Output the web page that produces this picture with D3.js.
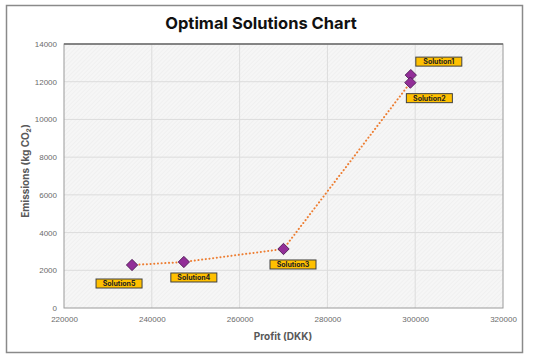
<!DOCTYPE html>
<html><head><meta charset="utf-8">
<script src="https://cdn.jsdelivr.net/npm/d3@7"></script>
<style>body{margin:0;background:#fff;}svg{display:block;}</style>
</head><body>
<svg id="chart" width="533" height="359"></svg>
<script>
const solutions = ["Solution1","Solution2","Solution3","Solution4","Solution5"];
const profit = [299000, 298900, 270000, 247300, 235500];
const emissions = [12350, 11950, 3130, 2440, 2280];
const xTicks = [220000, 240000, 260000, 280000, 300000, 320000];
const yTicks = [0, 2000, 4000, 6000, 8000, 10000, 12000, 14000];
// label offsets (pixels) relative to each point
const labelDx = [28, 19, 9.5, 10, -13];
const labelDy = [-13.5, 15.5, 15.5, 15.5, 18.5];

const svg = d3.select("#chart");
const W = 533, H = 359;
const m = {left:64, right:503, top:44, bottom:308};
const x = d3.scaleLinear().domain([220000,320000]).range([m.left, m.right]);
const y = d3.scaleLinear().domain([0,14000]).range([m.bottom, m.top]);

svg.append("rect").attr("x",0).attr("y",0).attr("width",W).attr("height",H).attr("fill","#fff");
svg.append("rect").attr("x",6.5).attr("y",5.5).attr("width",516).attr("height",347)
  .attr("fill","#fff").attr("stroke","#8a8a8a").attr("stroke-width",1.5);

const defs = svg.append("defs");
const pat = defs.append("pattern").attr("id","hatch").attr("patternUnits","userSpaceOnUse")
  .attr("width",3).attr("height",3).attr("patternTransform","rotate(45)");
pat.append("rect").attr("width",3).attr("height",3).attr("fill","#f6f6f6");
pat.append("line").attr("x1",0).attr("y1",0).attr("x2",0).attr("y2",3).attr("stroke","#ebebeb").attr("stroke-width",1);

svg.append("rect").attr("x",m.left).attr("y",m.top).attr("width",m.right-m.left).attr("height",m.bottom-m.top)
  .attr("fill","url(#hatch)");

// gridlines
svg.append("g").selectAll("line").data(yTicks.slice(1,-1)).join("line")
  .attr("x1",m.left).attr("x2",m.right).attr("y1",d=>y(d)).attr("y2",d=>y(d))
  .attr("stroke","#dcdcdc").attr("stroke-width",1);
svg.append("g").selectAll("line").data(xTicks.slice(1,-1)).join("line")
  .attr("y1",m.top).attr("y2",m.bottom).attr("x1",d=>x(d)).attr("x2",d=>x(d))
  .attr("stroke","#dcdcdc").attr("stroke-width",1);

// plot border
svg.append("rect").attr("x",m.left).attr("y",m.top).attr("width",m.right-m.left).attr("height",m.bottom-m.top)
  .attr("fill","none").attr("stroke","#9a9a9a").attr("stroke-width",1);
svg.append("line").attr("x1",m.left).attr("x2",m.right).attr("y1",m.top).attr("y2",m.top)
  .attr("stroke","#6e6e6e").attr("stroke-width",1.5);

// axes (labels only)
const xAxis = d3.axisBottom(x).tickValues(xTicks).tickSize(0).tickPadding(8).tickFormat(d3.format("d"));
const gx = svg.append("g").attr("transform",`translate(0,${m.bottom})`).call(xAxis);
gx.select(".domain").remove();
gx.selectAll("text").attr("fill","#6b6b6b").attr("font-size","8px").attr("font-family","Liberation Sans, Arial, sans-serif");
const yAxis = d3.axisLeft(y).tickValues(yTicks).tickSize(0).tickPadding(7).tickFormat(d3.format("d"));
const gy = svg.append("g").attr("transform",`translate(${m.left},0)`).call(yAxis);
gy.select(".domain").remove();
gy.selectAll("text").attr("fill","#6b6b6b").attr("font-size","8px").attr("font-family","Liberation Sans, Arial, sans-serif");

// title
svg.append("text").attr("x",261).attr("y",29).attr("text-anchor","middle")
  .attr("font-family","Inter, Lato, sans-serif").attr("font-weight","bold").attr("font-size","16.5px")
  .attr("fill","#111").text("Optimal Solutions Chart");

// axis titles
svg.append("text").attr("x",283).attr("y",340).attr("text-anchor","middle")
  .attr("font-family","Inter, Lato, sans-serif").attr("font-weight","bold").attr("font-size","10px")
  .attr("fill","#595959").text("Profit (DKK)");
svg.append("text").attr("transform","translate(29,171) rotate(-90)").attr("text-anchor","middle")
  .attr("font-family","Inter, Lato, sans-serif").attr("font-weight","bold").attr("font-size","10px")
  .attr("fill","#595959").text("Emissions (kg CO₂)");

// line
const order = [4,3,2,1,0];
const line = d3.line().x(i=>x(profit[i])).y(i=>y(emissions[i]));
svg.append("path").attr("d",line(order)).attr("fill","none")
  .attr("stroke","#ED7D31").attr("stroke-width",2).attr("stroke-dasharray","0.1 3.6").attr("stroke-linecap","round");

// diamonds
svg.append("g").selectAll("path").data(solutions.map((s,i)=>i)).join("path")
  .attr("transform",i=>`translate(${x(profit[i])},${y(emissions[i])}) rotate(45)`)
  .attr("d",d3.symbol().type(d3.symbolSquare).size(64)())
  .attr("fill","#922E98").attr("stroke","#4a1a50").attr("stroke-width",0.8);

// labels
const lg = svg.append("g").selectAll("g").data(solutions.map((s,i)=>i)).join("g")
  .attr("transform",i=>`translate(${x(profit[i])+labelDx[i]},${y(emissions[i])+labelDy[i]})`);
lg.append("rect").attr("x",-23).attr("y",-4.5).attr("width",46).attr("height",9)
  .attr("fill","#FFC000").attr("stroke","#404040").attr("stroke-width",1);
lg.append("text").attr("text-anchor","middle").attr("dy","2.6")
  .attr("font-family","Inter, Lato, sans-serif").attr("font-weight","bold").attr("font-size","7px")
  .attr("fill","#222").text(i=>solutions[i]);
</script>
</body></html>
